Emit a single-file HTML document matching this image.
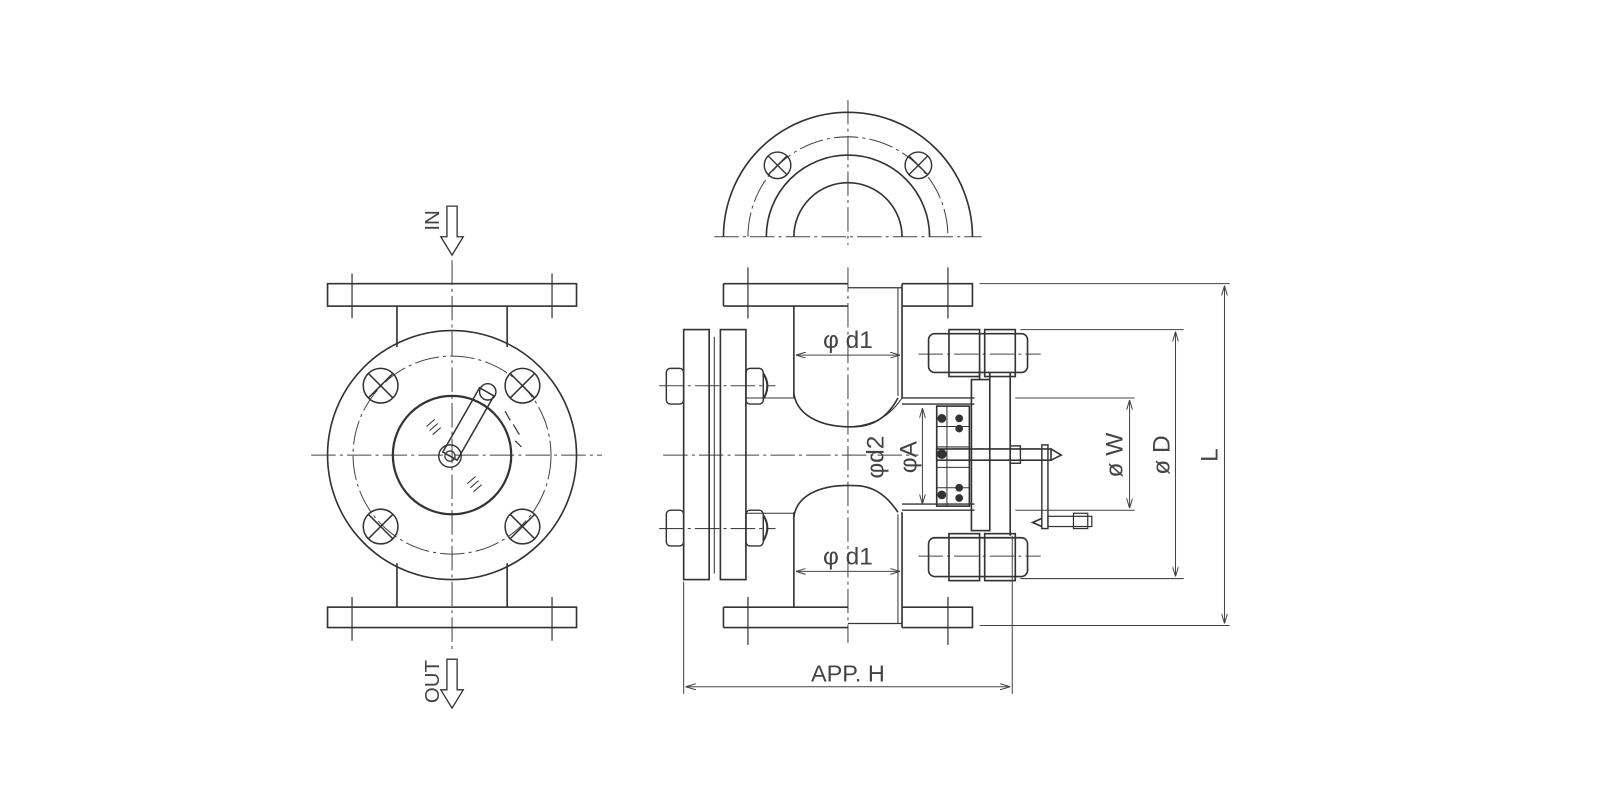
<!DOCTYPE html>
<html><head><meta charset="utf-8"><style>
html,body{margin:0;padding:0;background:#fff;}
svg{display:block}
text{font-family:"Liberation Sans",sans-serif;fill:#444;}
</style></head><body>
<svg width="1600" height="800" viewBox="0 0 1600 800" xmlns="http://www.w3.org/2000/svg">
<defs>
<marker id="ar" markerWidth="10" markerHeight="6" refX="10" refY="3" orient="auto-start-reverse" markerUnits="userSpaceOnUse"><path d="M0,0 L10,3 L0,6" fill="none" stroke="#444" stroke-width="1"/></marker>
</defs>
<g transform="scale(1.0204)">
<g fill="none" stroke="#333" stroke-width="1.6">
<!-- LEFT VIEW -->
<g stroke-width="1" stroke-dasharray="24,4,3,4" stroke="#444">
<line x1="443" y1="255" x2="443" y2="640"/>
<line x1="305" y1="446" x2="590" y2="446"/>
<circle cx="443" cy="446" r="97"/>
</g>
<rect x="321" y="278" width="244" height="22"/>
<rect x="321" y="595" width="244" height="20"/>
<line x1="345" y1="268" x2="345" y2="312" stroke-width="1.2"/>
<line x1="541" y1="268" x2="541" y2="312" stroke-width="1.2"/>
<line x1="345" y1="585" x2="345" y2="628" stroke-width="1.2"/>
<line x1="541" y1="585" x2="541" y2="628" stroke-width="1.2"/>
<line x1="389" y1="300" x2="389" y2="340"/><line x1="497" y1="300" x2="497" y2="340"/>
<line x1="389" y1="552" x2="389" y2="595"/><line x1="497" y1="552" x2="497" y2="595"/>
<circle cx="443" cy="446" r="122"/>
<circle cx="443" cy="446" r="58" stroke-width="2.2"/>
<g stroke-width="1.5">
<circle cx="373" cy="378" r="17"/><path d="M361,366 L385,390 M385,366 L361,390"/>
<circle cx="512" cy="378" r="17"/><path d="M500,366 L524,390 M524,366 L500,390"/>
<circle cx="373" cy="516" r="17"/><path d="M361,504 L385,528 M385,504 L361,528"/>
<circle cx="512" cy="516" r="17"/><path d="M500,504 L524,528 M524,504 L500,528"/>
</g>
<path d="M434,443 L470,380 L484,388 L448,451 Z" stroke-width="1.5"/>
<circle cx="478" cy="384" r="8" stroke-width="1.4"/>
<circle cx="441" cy="447" r="11" stroke-width="1.4"/>
<circle cx="441" cy="447" r="5" stroke-width="1.2"/>
<path d="M495,403 l5,9 M503,416 l6,10 M505,432 l6,6" stroke-width="1.2"/>
<path d="M418,418 l8,-7 M421,422 l8,-7 M424,426 l8,-7 M458,474 l8,-7 M461,478 l8,-7 M464,482 l8,-7" stroke-width="1"/>
<path d="M438,202 L448,202 L448,232 L454,232 L443,250 L432,232 L438,232 Z" stroke-width="1.3"/>
<path d="M438,646 L448,646 L448,676 L454,676 L443,694 L432,676 L438,676 Z" stroke-width="1.3"/>

<!-- TOP ARC VIEW -->
<g stroke-width="1" stroke-dasharray="24,4,3,4" stroke="#444">
<line x1="831" y1="98" x2="831" y2="240"/>
<line x1="700" y1="232" x2="962" y2="232"/>
<path d="M733,232 A98,98 0 0 1 929,232"/>
</g>
<path d="M709,232 A122,122 0 0 1 953,232"/>
<path d="M751,232 A80,80 0 0 1 911,232"/>
<path d="M778,232 A53,53 0 0 1 884,232"/>
<circle cx="762" cy="162" r="13" stroke-width="1.4"/><path d="M753,153 L771,171 M771,153 L753,171" stroke-width="1.3"/>
<circle cx="900" cy="162" r="13" stroke-width="1.4"/><path d="M891,153 L909,171 M909,153 L891,171" stroke-width="1.3"/>

<!-- FRONT/SIDE VIEW -->
<g stroke-width="1" stroke-dasharray="24,4,3,4" stroke="#444">
<line x1="831" y1="262" x2="831" y2="630"/>
<line x1="650" y1="446" x2="900" y2="446"/>
<line x1="646" y1="378" x2="760" y2="378"/>
<line x1="646" y1="518" x2="760" y2="518"/>
<line x1="900" y1="347" x2="1020" y2="347"/>
<line x1="900" y1="545" x2="1020" y2="545"/>
</g>
<path d="M709,278 H831 M709,300 H831 M709,278 V300 M884,278 H953 V300 H884"/>
<path d="M709,595 H831 M709,615 H831 M709,595 V615 M884,595 H953 V615 H884"/>
<path d="M831,282 H884 M831,611 H884" stroke-width="1.2"/>
<line x1="733" y1="262" x2="733" y2="312" stroke-width="1.2"/>
<line x1="929" y1="262" x2="929" y2="312" stroke-width="1.2"/>
<line x1="733" y1="585" x2="733" y2="632" stroke-width="1.2"/>
<line x1="929" y1="585" x2="929" y2="632" stroke-width="1.2"/>
<line x1="884" y1="278" x2="884" y2="390"/><line x1="880" y1="282" x2="880" y2="388" stroke-width="1"/>
<line x1="884" y1="502" x2="884" y2="615"/><line x1="880" y1="504" x2="880" y2="611" stroke-width="1"/>
<line x1="778" y1="300" x2="778" y2="390"/>
<line x1="778" y1="502" x2="778" y2="595"/>
<path d="M778,386 C782,410 810,420 840,418 C860,417 872,405 880,390"/>
<path d="M778,506 C782,482 810,474 840,476 C860,477 872,490 880,502"/>
<path d="M836,418 C860,416 874,405 884,390" stroke-width="1"/>
<line x1="731" y1="390" x2="778" y2="390" stroke-width="1"/>
<line x1="731" y1="503" x2="778" y2="503" stroke-width="1"/>
<rect x="670" y="323" width="25" height="245"/>
<rect x="706" y="323" width="25" height="245"/>
<line x1="700" y1="330" x2="700" y2="562" stroke-width="1"/>
<rect x="653" y="361" width="17" height="35" rx="4" stroke-width="1.4"/>
<rect x="731" y="361" width="17" height="35" rx="4" stroke-width="1.4"/>
<path d="M748,366 q8,12 0,25" stroke-width="2"/>
<rect x="653" y="500" width="17" height="35" rx="4" stroke-width="1.4"/>
<rect x="731" y="500" width="17" height="35" rx="4" stroke-width="1.4"/>
<path d="M748,505 q8,12 0,25" stroke-width="2"/>
<!-- actuator -->
<path d="M884,390 H955 M884,396 H955 M884,500 H955 M884,494 H955" stroke-width="1.3"/>
<rect x="910" y="327" width="97" height="38" rx="6"/>
<rect x="930" y="323" width="30" height="46"/><rect x="965" y="323" width="30" height="46"/>
<rect x="910" y="527" width="97" height="38" rx="6"/>
<rect x="930" y="523" width="30" height="46"/><rect x="965" y="523" width="30" height="46"/>
<rect x="952" y="372" width="18" height="148"/>
<line x1="960" y1="365" x2="960" y2="372"/><line x1="970" y1="365" x2="970" y2="372"/>
<line x1="990" y1="365" x2="990" y2="525"/>
<rect x="918" y="398" width="32" height="98"/>
<path d="M928,398 V496 M918,418 H950 M918,438 H950 M918,458 H950 M918,478 H950" stroke-width="1"/>
<g fill="#333"><circle cx="923" cy="410" r="3.5"/><circle cx="923" cy="445" r="4"/><circle cx="923" cy="485" r="3.5"/><circle cx="940" cy="410" r="3"/><circle cx="940" cy="420" r="3"/><circle cx="940" cy="478" r="3"/><circle cx="940" cy="488" r="3"/></g>
<rect x="918" y="440" width="112" height="11"/>
<rect x="990" y="437" width="10" height="17" stroke-width="1.4"/>
<path d="M1030,440 L1040,446 L1030,451"/>
<rect x="1021" y="436" width="6" height="82" stroke-width="1.4"/>
<path d="M1021,508 L1012,512 L1021,516"/>
<rect x="1027" y="506" width="43" height="10" stroke-width="1.2"/>
<rect x="1052" y="503" width="14" height="15" stroke-width="1.2"/>
<!-- dimensions -->
<g stroke-width="1" stroke="#444">
<line x1="960" y1="278" x2="1205" y2="278"/>
<line x1="960" y1="613" x2="1205" y2="613"/>
<line x1="1200" y1="280" x2="1200" y2="611" marker-start="url(#ar)" marker-end="url(#ar)"/>
<line x1="1000" y1="323" x2="1160" y2="323"/>
<line x1="1000" y1="567" x2="1160" y2="567"/>
<line x1="1152" y1="325" x2="1152" y2="565" marker-start="url(#ar)" marker-end="url(#ar)"/>
<line x1="995" y1="390" x2="1112" y2="390"/>
<line x1="995" y1="500" x2="1112" y2="500"/>
<line x1="1107" y1="392" x2="1107" y2="498" marker-start="url(#ar)" marker-end="url(#ar)"/>
<line x1="670" y1="570" x2="670" y2="680"/>
<line x1="992" y1="525" x2="992" y2="680"/>
<line x1="672" y1="673" x2="990" y2="673" marker-start="url(#ar)" marker-end="url(#ar)"/>
<line x1="780" y1="348" x2="882" y2="348" marker-start="url(#ar)" marker-end="url(#ar)"/>
<line x1="780" y1="560" x2="882" y2="560" marker-start="url(#ar)" marker-end="url(#ar)"/>
<line x1="904" y1="400" x2="904" y2="494" marker-start="url(#ar)" marker-end="url(#ar)"/>
</g>
</g>
<g font-size="24">
<text x="831" y="341" text-anchor="middle">φ d1</text>
<text x="831" y="553" text-anchor="middle">φ d1</text>
<text x="831" y="668" text-anchor="middle" font-size="23">APP. H</text>
<text transform="translate(866,448) rotate(-90)" text-anchor="middle">φd2</text>
<text transform="translate(898,448) rotate(-90)" text-anchor="middle">φA</text>
<text transform="translate(1100,446) rotate(-90)" text-anchor="middle">ø W</text>
<text transform="translate(1146,446) rotate(-90)" text-anchor="middle">ø D</text>
<text transform="translate(1193,446) rotate(-90)" text-anchor="middle">L</text>
<text transform="translate(430,216) rotate(-90)" text-anchor="middle" font-size="20">IN</text>
<text transform="translate(430,668) rotate(-90)" text-anchor="middle" font-size="20">OUT</text>
</g>
</g>
</svg>
</body></html>
